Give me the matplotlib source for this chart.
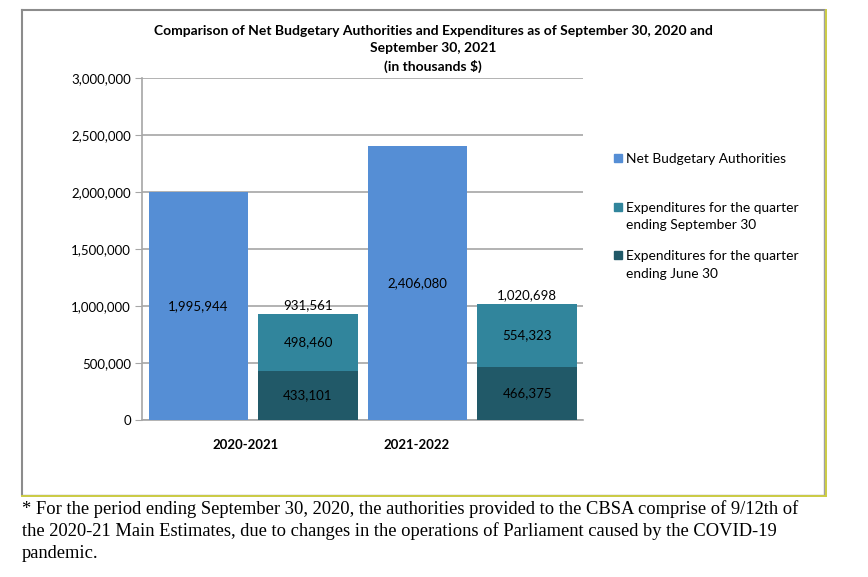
import matplotlib.pyplot as plt
from matplotlib.lines import Line2D
from matplotlib.patches import Rectangle
import numpy as np

# data
years = ["2020-2021", "2021-2022"]
authorities = [1995944, 2406080]
exp_june = [433101, 466375]
exp_sept = [498460, 554323]
exp_total = [931561, 1020698]
legend_labels = ["Net Budgetary Authorities",
                 "Expenditures for the quarter\nending September 30",
                 "Expenditures for the quarter\nending June 30"]

c_auth = "#558ED5"
c_sept = "#31859C"
c_june = "#215968"
grid_c = "#A6A6A6"

plt.rcParams['font.family'] = ['Lato', 'DejaVu Sans']

fig = plt.figure(figsize=(8.68, 5.77), dpi=100)
W, H = 868, 577


def fline(x0, y0, x1, y1, **kw):
    # line in pixel coords (from top-left)
    fig.add_artist(Line2D([x0 / W, x1 / W], [1 - y0 / H, 1 - y1 / H],
                          transform=fig.transFigure, **kw))


# outer chart frame: gray left/top, yellow-ish right/bottom
fline(22, 10, 825, 10, color="#8C8C8C", lw=1.5)
fline(22, 10, 22, 495, color="#8C8C8C", lw=1.5)
fline(824, 10, 824, 495, color="#A0A0A0", lw=1)
fline(22, 494.5, 825, 494.5, color="#A0A0A0", lw=1)
fline(825.5, 10, 825.5, 496, color="#CCCC44", lw=1.4)
fline(22, 496, 826, 496, color="#CCCC44", lw=1.4)

ax = fig.add_axes([142 / W, 1 - 420 / H, (583 - 142) / W, (420 - 78) / H])

pos = np.arange(len(years))
x_auth = pos * 2
x_exp = pos * 2 + 1
w = 0.91

ax.bar(x_auth, authorities, w, color=c_auth, zorder=3)
ax.bar(x_exp, exp_sept, w, bottom=exp_june, color=c_sept, zorder=3)
ax.bar(x_exp, exp_june, w, color=c_june, zorder=3)

for i in range(len(years)):
    ax.text(x_auth[i], authorities[i] / 2, f"{authorities[i]:,}", ha="center", va="center",
            fontsize=9.5, zorder=4)
    ax.text(x_exp[i], exp_june[i] / 2, f"{exp_june[i]:,}", ha="center", va="center",
            fontsize=9.5, zorder=4)
    ax.text(x_exp[i], exp_june[i] + exp_sept[i] / 2, f"{exp_sept[i]:,}", ha="center",
            va="center", fontsize=9.5, zorder=4)
    ax.text(x_exp[i], exp_total[i] + 25000, f"{exp_total[i]:,}", ha="center", va="bottom",
            fontsize=9.5, zorder=4)

ax.set_xlim(-0.516, 3.51)
ax.set_ylim(0, 3000000)
ax.set_yticks(np.arange(0, 3000001, 500000))
ax.yaxis.set_major_formatter(plt.FuncFormatter(lambda v, p: f"{int(v):,}"))
ax.tick_params(axis="y", length=5, color=grid_c, labelsize=9.5, pad=3)
ax.grid(axis="y", color=grid_c, lw=1.2, zorder=0)

ax.set_xticks([0.434, 1.986])
ax.set_xticklabels(years, fontweight="bold", fontsize=9.5)
ax.tick_params(axis="x", length=0, pad=14)

for s in ["top", "right"]:
    ax.spines[s].set_visible(False)
ax.spines["left"].set_color(grid_c)
ax.spines["bottom"].set_color(grid_c)
ax.spines["left"].set_linewidth(1.2)
ax.spines["bottom"].set_linewidth(1.2)

fig.text(433 / W, 1 - 25 / H,
         "Comparison of Net Budgetary Authorities and Expenditures as of September 30, 2020 and\n"
         "September 30, 2021\n(in thousands $)",
         ha="center", va="top", fontsize=10, fontweight="bold", linespacing=1.52)

# legend, laid out like the Excel one (marker on first line of each entry)
leg_colors = [c_auth, c_sept, c_june]
leg_y = [158, 207, 255]
for lab, col, y in zip(legend_labels, leg_colors, leg_y):
    fig.add_artist(Rectangle((614 / W, 1 - (y + 4) / H), 8 / W, 8 / H,
                             transform=fig.transFigure, color=col))
    fig.text(626 / W, 1 - (y - 5) / H, lab, ha="left", va="top", fontsize=9.9,
             linespacing=1.55)

fig.text(22 / W, 1 - 500 / H,
         "* For the period ending September 30, 2020, the authorities provided to the CBSA comprise of 9/12th of\n"
         "the 2020-21 Main Estimates, due to changes in the operations of Parliament caused by the COVID-19\n"
         "pandemic.",
         ha="left", va="top", fontsize=13.3, family=["Liberation Serif", "DejaVu Serif"],
         linespacing=1.33)

fig.savefig("out.png", dpi=100)
